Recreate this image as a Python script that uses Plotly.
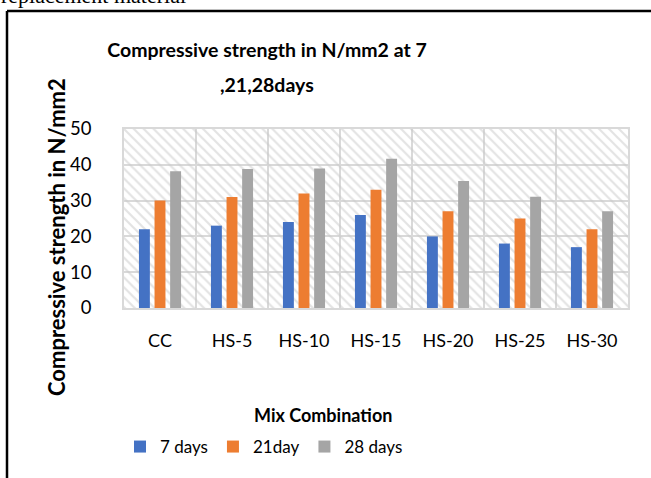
import plotly.graph_objects as go

categories = ["CC", "HS-5", "HS-10", "HS-15", "HS-20", "HS-25", "HS-30"]
days7 = [22, 23, 24, 26, 20, 18, 17]
days21 = [30, 31, 32, 33, 27, 25, 22]
days28 = [38.2, 38.8, 39, 41.7, 35.5, 31.1, 27]
series_names = ["7 days", "21day", "28 days"]
series_colors = ["#4472C4", "#ED7D31", "#A5A5A5"]
y_max = 50

FONT = "Lato"

# plot-area geometry in pixels (used only to convert label positions)
L, T, R, B = 124, 129, 628, 308
PW, PH = R - L, B - T


def px(x):
    return (x - L) / PW


def py(y):
    return (B - y) / PH


fig = go.Figure()

# hatched plot background (base axis, drawn under the data overlay)
fig.add_trace(go.Bar(
    x=[0.5], y=[y_max], width=[1], xaxis="x", yaxis="y",
    marker=dict(color="#c8c8c8", line=dict(width=0),
                pattern=dict(shape="\\", size=7, solidity=0.32,
                             fgcolor="#c8c8c8", bgcolor="rgba(0,0,0,0)")),
    showlegend=False, hoverinfo="skip",
))

for name, vals, col in zip(series_names, [days7, days21, days28], series_colors):
    fig.add_trace(go.Bar(x=categories, y=vals, name=name, marker_color=col,
                         marker_line_width=0, xaxis="x2", yaxis="y"))

fig.update_layout(
    width=651, height=478,
    margin=dict(l=L, r=651 - R, t=T, b=478 - B),
    paper_bgcolor="white", plot_bgcolor="white",
    barmode="group", bargap=0.35, bargroupgap=0.3,
    font=dict(family=FONT, size=18, color="#000000"),
    title=dict(text="<b>Compressive strength in N/mm2 at 7</b>",
               x=267 / 651, xanchor="center", xref="container",
               y=1 - 50 / 478, yanchor="middle", yref="container",
               font=dict(family=FONT, size=19.5, color="#000000")),
    xaxis=dict(range=[0, 1], visible=False, showgrid=False, zeroline=False,
               fixedrange=True),
    xaxis2=dict(overlaying="x", anchor="y", side="bottom", type="category",
                tickson="boundaries", showgrid=True, gridcolor="#d9d9d9",
                gridwidth=1.5, showline=True, linecolor="#d9d9d9", linewidth=1.5,
                mirror=True, ticks="", ticklabelstandoff=16,
                tickfont=dict(family=FONT, size=18, color="#000000")),
    yaxis=dict(range=[0, y_max], dtick=10, showgrid=True, gridcolor="#d9d9d9",
               gridwidth=1.5, zeroline=False, showline=True, linecolor="#d9d9d9",
               linewidth=1.5, mirror=True, ticks="", ticklabelstandoff=27,
               tickfont=dict(family=FONT, size=18.5, color="#000000")),
    legend=dict(orientation="h", x=264 / 651, xref="container", xanchor="center",
                y=1 - 447 / 478, yref="container", yanchor="middle",
                font=dict(family=FONT, size=17, color="#000000"),
                itemwidth=30, traceorder="normal"),
    annotations=[
        dict(text="<b>,21,28days</b>", xref="paper", yref="paper",
             x=px(267), y=py(84), xanchor="center", yanchor="middle",
             showarrow=False, font=dict(family=FONT, size=19.5, color="#000000")),
        dict(text="<b>Compressive strength in N/mm2</b>", textangle=-90,
             xref="paper", yref="paper", x=px(56), y=py(237),
             xanchor="center", yanchor="middle", showarrow=False,
             font=dict(family=FONT, size=22, color="#000000")),
        dict(text="<b>Mix Combination</b>", xref="paper", yref="paper",
             x=px(323), y=py(415), xanchor="center",
             yanchor="middle", showarrow=False,
             font=dict(family=FONT, size=18, color="#000000")),
        dict(text="replacement material", xref="paper", yref="paper",
             x=px(-1), y=py(10), xanchor="left",
             yanchor="bottom", showarrow=False,
             font=dict(family="Liberation Serif", size=22, color="#000000")),
    ],
    shapes=[
        dict(type="line", xref="paper", yref="paper",
             x0=px(7), x1=px(660), y0=py(11), y1=py(11),
             line=dict(color="black", width=2.5)),
        dict(type="line", xref="paper", yref="paper",
             x0=px(7), x1=px(7), y0=py(11), y1=py(490),
             line=dict(color="black", width=2.5)),
    ],
)

fig.write_html("out.html", config={"displayModeBar": False},
               post_script="document.body.style.margin='0';")
